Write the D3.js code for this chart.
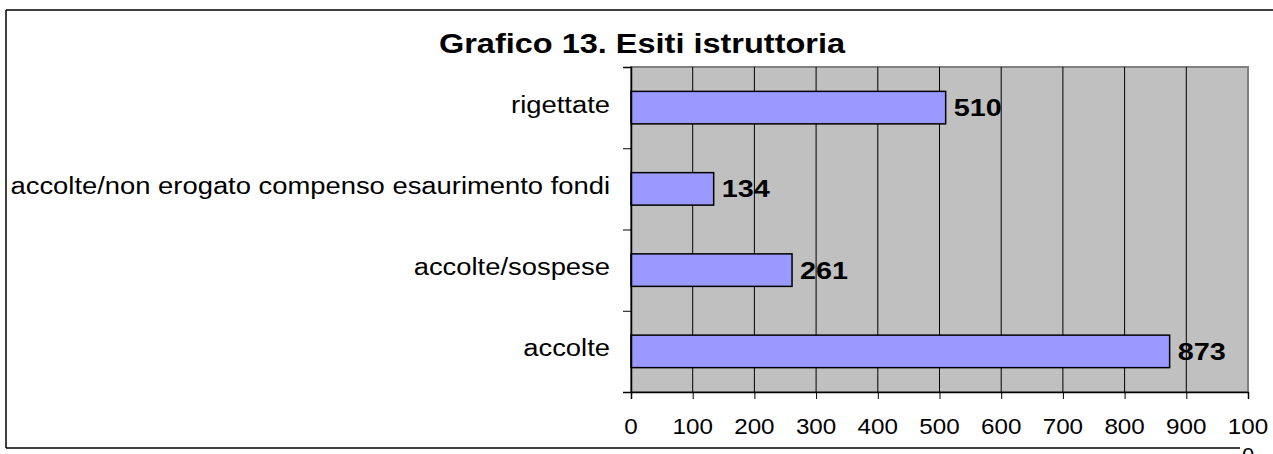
<!DOCTYPE html>
<html>
<head>
<meta charset="utf-8">
<script src="https://cdn.jsdelivr.net/npm/d3@7"></script>
<style>
  body { margin: 0; background: #fff; }
  svg { display: block; font-family: "Liberation Sans", Arial, sans-serif; }
</style>
</head>
<body>
<div id="chart"></div>
<script>
// Chart data, bottom category first (as in the source sheet)
const categories = ["accolte", "accolte/sospese", "accolte/non erogato compenso esaurimento fondi", "rigettate"];
const values = [873, 261, 134, 510];
const xTicks = [0, 100, 200, 300, 400, 500, 600, 700, 800, 900, 1000];
const chartTitle = "Grafico 13. Esiti istruttoria";

const width = 1273;
const height = 454;
const plot = { left: 631, right: 1248, top: 67, bottom: 392 };

const svg = d3.select("#chart").append("svg")
    .attr("width", width)
    .attr("height", height);

// stretch a text horizontally like the original render
function stretch(sel, k) {
    sel.each(function () {
        const w = this.getComputedTextLength();
        d3.select(this).attr("textLength", w * k).attr("lengthAdjust", "spacingAndGlyphs");
    });
}

// outer frame (right side runs off the picture)
svg.append("line").attr("x1", 6).attr("x2", width).attr("y1", 10).attr("y2", 10)
    .attr("stroke", "#000").attr("stroke-width", 1.5);
svg.append("line").attr("x1", 6).attr("x2", 6).attr("y1", 10).attr("y2", 448)
    .attr("stroke", "#000").attr("stroke-width", 1.5);
svg.append("line").attr("x1", 6).attr("x2", 1240).attr("y1", 448).attr("y2", 448)
    .attr("stroke", "#000").attr("stroke-width", 1.5);

// scales
const x = d3.scaleLinear()
    .domain([0, 1000])
    .range([plot.left, plot.right]);

const y = d3.scaleBand()
    .domain(categories.slice().reverse())
    .range([plot.top, plot.bottom])
    .paddingInner(0.6)
    .paddingOuter(0.3);

// plot area background
svg.append("rect")
    .attr("x", plot.left)
    .attr("y", plot.top)
    .attr("width", plot.right - plot.left)
    .attr("height", plot.bottom - plot.top)
    .attr("fill", "#c0c0c0")
    .attr("stroke", "#808080")
    .attr("stroke-width", 2);

// vertical gridlines
svg.append("g")
    .selectAll("line")
    .data(xTicks.filter(d => d > 0 && d < 1000))
    .enter()
    .append("line")
    .attr("x1", d => x(d))
    .attr("x2", d => x(d))
    .attr("y1", plot.top)
    .attr("y2", plot.bottom)
    .attr("stroke", "#000")
    .attr("stroke-width", 1);

// bars
svg.append("g")
    .selectAll("rect")
    .data(categories)
    .enter()
    .append("rect")
    .attr("x", x(0))
    .attr("y", d => y(d))
    .attr("width", (d, i) => x(values[i]) - x(0))
    .attr("height", y.bandwidth())
    .attr("fill", "#9999ff")
    .attr("stroke", "#000")
    .attr("stroke-width", 1.5);

// value labels
svg.append("g")
    .selectAll("text")
    .data(categories)
    .enter()
    .append("text")
    .attr("x", (d, i) => x(values[i]) + 8)
    .attr("y", d => y(d) + y.bandwidth() / 2 + 8.5)
    .attr("font-size", "24px")
    .attr("font-weight", "bold")
    .attr("fill", "#000")
    .text((d, i) => values[i])
    .call(stretch, 1.2);

// y axis: ticks on band boundaries, labels centred in bands
const yEdges = d3.scaleLinear().domain([0, categories.length]).range([plot.bottom, plot.top]);
svg.append("g")
    .attr("transform", `translate(${plot.left}, 0)`)
    .call(d3.axisLeft(yEdges).ticks(categories.length).tickSize(8).tickFormat(""))
    .call(g => g.select(".domain").attr("stroke", "#000").attr("stroke-width", 1.5))
    .call(g => g.selectAll(".tick line").attr("stroke", "#000"));

svg.append("g")
    .selectAll("text")
    .data(categories)
    .enter()
    .append("text")
    .attr("x", 610)
    .attr("y", d => y(d) + y.bandwidth() / 2 + 5)
    .attr("text-anchor", "end")
    .attr("font-size", "23px")
    .attr("fill", "#000")
    .text(d => d)
    .call(stretch, 1.19);

// x axis
svg.append("g")
    .attr("transform", `translate(0, ${plot.bottom})`)
    .call(d3.axisBottom(x).tickValues(xTicks).tickSize(7).tickFormat(""))
    .call(g => g.select(".domain").attr("stroke", "#000").attr("stroke-width", 1.5))
    .call(g => g.selectAll(".tick line").attr("stroke", "#000"));

// tick labels; the last one wraps onto a second line as in the original
const tickLabels = svg.append("g")
    .selectAll("text")
    .data(xTicks)
    .enter()
    .append("text")
    .attr("x", d => x(d))
    .attr("y", 434)
    .attr("text-anchor", "middle")
    .attr("font-size", "22px")
    .attr("fill", "#000");

tickLabels.filter(d => String(d).length < 4)
    .text(d => d)
    .call(stretch, 1.1);

tickLabels.filter(d => String(d).length >= 4)
    .each(function (d) {
        const s = String(d);
        const t = d3.select(this);
        t.append("tspan").attr("x", x(d)).text(s.slice(0, 3)).call(stretch, 1.1);
        t.append("tspan").attr("x", x(d)).attr("dy", 29).text(s.slice(3));
    });

// title
svg.append("text")
    .attr("x", 642)
    .attr("y", 52.5)
    .attr("text-anchor", "middle")
    .attr("font-size", "28px")
    .attr("font-weight", "bold")
    .attr("fill", "#000")
    .text(chartTitle)
    .call(stretch, 1.16);
</script>
</body>
</html>
